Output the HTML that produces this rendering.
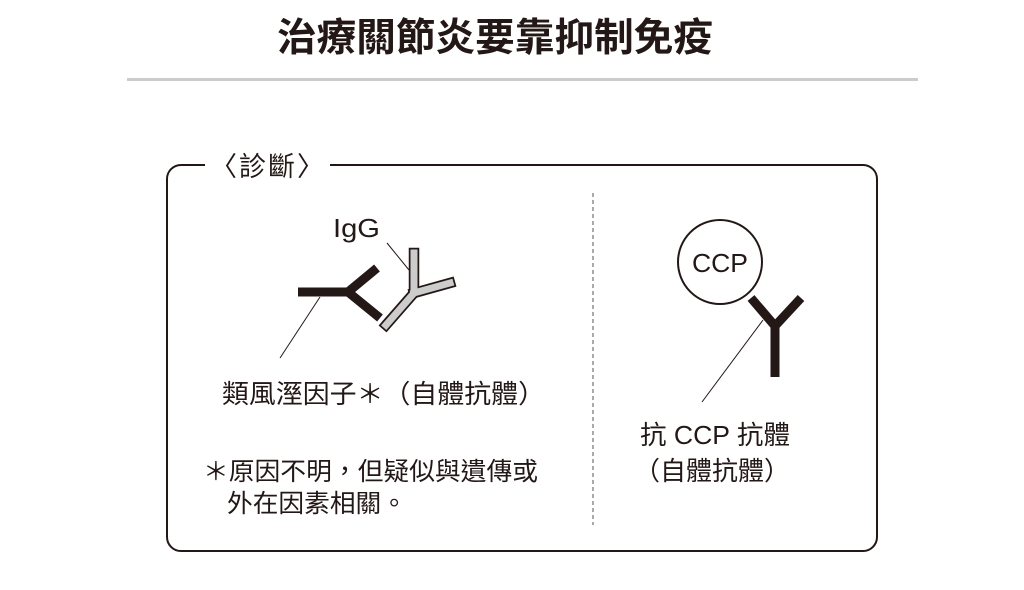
<!DOCTYPE html>
<html><head><meta charset="utf-8"><style>
body{margin:0;width:1024px;height:585px;background:#fff;overflow:hidden}
svg text{font-family:"Liberation Sans","Noto Sans CJK TC",sans-serif;fill:#231815}
</style></head><body>
<svg width="1024" height="585" viewBox="0 0 1024 585">
<text x="495" y="51" font-size="39" font-weight="bold" text-anchor="middle" textLength="436" lengthAdjust="spacingAndGlyphs">治療關節炎要靠抑制免疫</text>
<rect x="127" y="78" width="791" height="3" fill="#ccc"/>
<rect x="167" y="165" width="710" height="386" rx="14" fill="none" stroke="#231815" stroke-width="2"/>
<rect x="205" y="148" width="125" height="34" fill="#fff"/>
<text x="210" y="176" font-size="27" textLength="114" lengthAdjust="spacing">〈診斷〉</text>
<line x1="593" y1="193" x2="593" y2="525" stroke="#555" stroke-width="1" stroke-dasharray="4,3"/>
<g stroke="#231815" stroke-width="9" fill="none" stroke-linecap="butt">
<line x1="298" y1="292" x2="348" y2="292"/>
<polyline points="377,268 348,292 380,318"/>
</g>
<g stroke="#231815" stroke-width="10.5" fill="none" stroke-linecap="square" stroke-linejoin="miter">
<polyline points="386,325 414,293 414,253"/><line x1="414" y1="293" x2="450" y2="283"/>
</g>
<g stroke="#ccc" stroke-width="7" fill="none" stroke-linecap="square" stroke-linejoin="miter">
<polyline points="386,325 414,293 414,253"/><line x1="414" y1="293" x2="450" y2="283"/>
</g>
<text x="333" y="237" font-size="26" textLength="47" lengthAdjust="spacingAndGlyphs">IgG</text>
<line x1="387" y1="243" x2="409" y2="270" stroke="#231815" stroke-width="1"/>
<line x1="320" y1="297" x2="280" y2="358" stroke="#231815" stroke-width="1"/>
<text x="222" y="403" font-size="26" textLength="323" lengthAdjust="spacingAndGlyphs">類風溼因子＊（自體抗體）</text>
<text x="203" y="480" font-size="25" textLength="335" lengthAdjust="spacingAndGlyphs">＊原因不明，但疑似與遺傳或</text>
<text x="227" y="512" font-size="25" textLength="180" lengthAdjust="spacingAndGlyphs">外在因素相關。</text>
<circle cx="720" cy="262" r="42" fill="none" stroke="#231815" stroke-width="2"/>
<text x="720" y="272" font-size="26" text-anchor="middle" textLength="56" lengthAdjust="spacingAndGlyphs">CCP</text>
<g stroke="#231815" stroke-width="9" fill="none">
<polyline points="751,298 775,326 801,298"/><line x1="775" y1="326" x2="775" y2="377"/>
</g>
<line x1="763" y1="320" x2="702" y2="402" stroke="#231815" stroke-width="1"/>
<text x="640" y="444" font-size="26" textLength="150" lengthAdjust="spacingAndGlyphs">抗 CCP 抗體</text>
<text x="634" y="480" font-size="26" textLength="156" lengthAdjust="spacingAndGlyphs">（自體抗體）</text>
</svg>
</body></html>
